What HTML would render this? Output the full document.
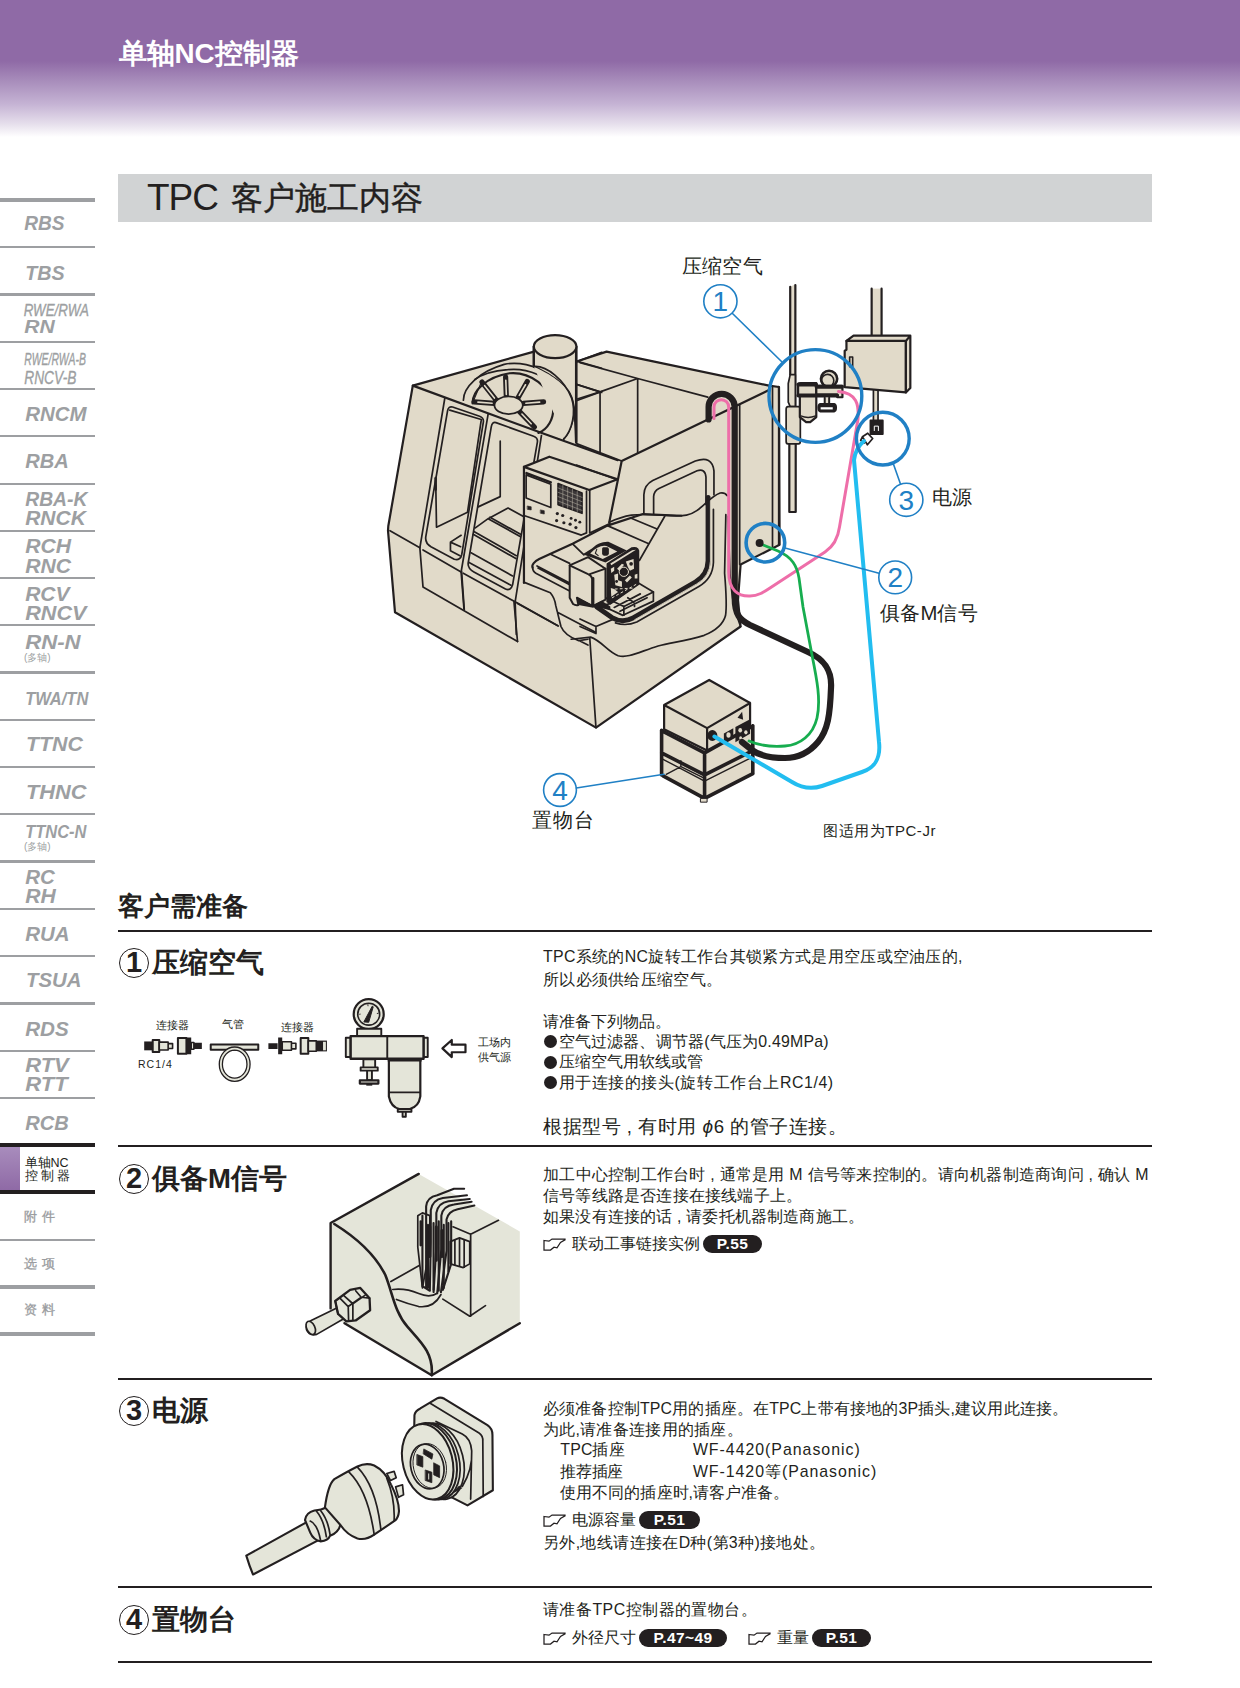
<!DOCTYPE html>
<html lang="zh"><head><meta charset="utf-8"><title>TPC</title>
<style>
html,body{margin:0;padding:0;background:#fff;}
body{width:1240px;height:1688px;position:relative;overflow:hidden;font-family:"Liberation Sans",sans-serif;color:#231f20;}
.abs{position:absolute;white-space:nowrap;}
#hdr{left:0;top:0;width:1240px;height:140px;background:linear-gradient(to bottom,#8f6aa6 0,#8f6aa6 61px,#a88dbb 81px,#c5b3d4 104px,#e6dfec 124px,#fff 137px);}
#hdrt{left:118.5px;top:38px;font-size:27.8px;font-weight:bold;color:#fff;line-height:32px;}
#tbar{left:118px;top:174px;width:1034px;height:48px;background:#d1d3d4;}
#tbart{left:147px;top:176px;font-size:33px;line-height:44px;color:#231f20;}#tbart2{left:231px;top:176px;font-size:32.2px;line-height:44px;color:#231f20;-webkit-text-stroke:0.4px #231f20;}
.sl{position:absolute;left:0;width:95px;background:#9d9fa2;}
.sb{position:absolute;left:24px;color:#9d9fa2;font-style:italic;font-weight:bold;font-size:19px;line-height:19px;white-space:nowrap;transform-origin:0 50%;}
.sb.w{transform:scaleX(1.28);letter-spacing:0.5px;}
.sb.n{font-weight:normal;font-size:17px;transform:scaleX(0.72);-webkit-text-stroke:0.3px #9d9fa2;}
.sc{position:absolute;left:24px;color:#9d9fa2;font-size:10px;line-height:12px;white-space:nowrap;}
.sz{position:absolute;left:24px;color:#999b9e;-webkit-text-stroke:.3px #999b9e;font-size:13px;line-height:16px;white-space:nowrap;letter-spacing:5px;}
.hl{position:absolute;left:118px;width:1034px;height:2px;background:#231f20;}
.h2{position:absolute;left:118px;font-size:25.8px;font-weight:bold;line-height:32px;white-space:nowrap;}
.h3{position:absolute;left:118px;font-size:27.5px;font-weight:bold;line-height:34px;white-space:nowrap;}
.cn{display:inline-block;box-sizing:border-box;width:30px;height:30px;border:1.6px solid #231f20;border-radius:50%;font-size:29px;line-height:26.5px;text-align:center;vertical-align:top;margin:2px 3px 0 1px;font-weight:bold;letter-spacing:0;}
.t{position:absolute;left:543px;font-size:15.9px;line-height:20.6px;white-space:nowrap;}
.bl{display:inline-block;width:13px;height:13px;border-radius:50%;background:#231f20;margin:0 1.5px 0 1px;vertical-align:-1.5px}
.pill{display:inline-block;background:#231f20;color:#fff;font-weight:bold;font-size:15.5px;letter-spacing:.4px;line-height:17.5px;height:17.5px;border-radius:9px;text-align:center;vertical-align:-0.2px;margin-left:3px;}
.lb{position:absolute;font-size:20.3px;letter-spacing:.2px;line-height:24px;white-space:nowrap;}
.sm{position:absolute;font-size:11px;line-height:13px;white-space:nowrap;}
</style></head><body>
<div id="hdr" class="abs"></div>
<div id="hdrt" class="abs">单轴NC控制器</div>
<div id="tbar" class="abs"></div>
<div id="tbart" class="abs"><span style="font-size:37px;letter-spacing:-1px;-webkit-text-stroke:0">TPC</span></div><div id="tbart2" class="abs">客户施工内容</div>
<!--SIDEBAR-->
<div class="sl" style="top:198.2px;height:3.6px"></div>
<div class="sl" style="top:246.2px;height:2px"></div>
<div class="sl" style="top:292.7px;height:3.6px"></div>
<div class="sl" style="top:340.8px;height:2px"></div>
<div class="sl" style="top:388.0px;height:2px"></div>
<div class="sl" style="top:435.2px;height:2px"></div>
<div class="sl" style="top:482.5px;height:2px"></div>
<div class="sl" style="top:529.8px;height:2px"></div>
<div class="sl" style="top:577.0px;height:2px"></div>
<div class="sl" style="top:624.2px;height:2px"></div>
<div class="sl" style="top:670.7px;height:3.6px"></div>
<div class="sl" style="top:718.8px;height:2px"></div>
<div class="sl" style="top:766.0px;height:2px"></div>
<div class="sl" style="top:813.2px;height:2px"></div>
<div class="sl" style="top:859.7px;height:3.6px"></div>
<div class="sl" style="top:907.8px;height:2px"></div>
<div class="sl" style="top:955.0px;height:2px"></div>
<div class="sl" style="top:1001.5px;height:3.6px"></div>
<div class="sl" style="top:1049.5px;height:2px"></div>
<div class="sl" style="top:1096.8px;height:2px"></div>
<div class="sl" style="top:1143.0px;height:4px;background:#231f20"></div>
<div class="sl" style="top:1190.2px;height:4px;background:#231f20"></div>
<div class="sl" style="top:1238.5px;height:2px"></div>
<div class="sl" style="top:1285.0px;height:3.6px"></div>
<div class="sl" style="top:1332.2px;height:3.6px"></div>
<div class="abs" style="left:0;top:1147px;width:20px;height:43px;background:linear-gradient(to bottom,#a88cbc,#8f6aa6)"></div>
<svg class="abs" style="left:0;top:0" width="100" height="1688" viewBox="0 0 100 1688" font-family="Liberation Sans, sans-serif" font-style="italic" fill="#9d9fa2">
<text x="24.3" y="229.5" font-size="19.5" font-weight="bold" textLength="40.3" lengthAdjust="spacingAndGlyphs">RBS</text>
<text x="25.2" y="279.6" font-size="19.5" font-weight="bold" textLength="39.4" lengthAdjust="spacingAndGlyphs">TBS</text>
<text x="23.7" y="315.7" font-size="16.5" font-weight="normal" textLength="65.2" lengthAdjust="spacingAndGlyphs" stroke="#9d9fa2" stroke-width="0.35">RWE/RWA</text>
<text x="24.3" y="332.6" font-size="18" font-weight="bold" textLength="30.5" lengthAdjust="spacingAndGlyphs">RN</text>
<text x="24.3" y="365.2" font-size="17" font-weight="normal" textLength="61.6" lengthAdjust="spacingAndGlyphs" stroke="#9d9fa2" stroke-width="0.35">RWE/RWA-B</text>
<text x="24.3" y="384.4" font-size="18" font-weight="normal" textLength="52.1" lengthAdjust="spacingAndGlyphs" stroke="#9d9fa2" stroke-width="0.35">RNCV-B</text>
<text x="25.2" y="420.6" font-size="19.5" font-weight="bold" textLength="61.3" lengthAdjust="spacingAndGlyphs">RNCM</text>
<text x="25.2" y="468.3" font-size="19.5" font-weight="bold" textLength="43.5" lengthAdjust="spacingAndGlyphs">RBA</text>
<text x="25.2" y="505.9" font-size="19.5" font-weight="bold" textLength="62.2" lengthAdjust="spacingAndGlyphs">RBA-K</text>
<text x="25.2" y="525.2" font-size="19.5" font-weight="bold" textLength="60.7" lengthAdjust="spacingAndGlyphs">RNCK</text>
<text x="25.2" y="553.3" font-size="19.5" font-weight="bold" textLength="45.9" lengthAdjust="spacingAndGlyphs">RCH</text>
<text x="25.2" y="572.6" font-size="19.5" font-weight="bold" textLength="45.9" lengthAdjust="spacingAndGlyphs">RNC</text>
<text x="25.2" y="600.7" font-size="19.5" font-weight="bold" textLength="44.4" lengthAdjust="spacingAndGlyphs">RCV</text>
<text x="25.2" y="620" font-size="19.5" font-weight="bold" textLength="61.3" lengthAdjust="spacingAndGlyphs">RNCV</text>
<text x="25.2" y="648.7" font-size="19.5" font-weight="bold" textLength="55.4" lengthAdjust="spacingAndGlyphs">RN-N</text>
<text x="25.2" y="705" font-size="18" font-weight="bold" textLength="63.1" lengthAdjust="spacingAndGlyphs">TWA/TN</text>
<text x="26" y="751.3" font-size="19.5" font-weight="bold" textLength="57.0" lengthAdjust="spacingAndGlyphs">TTNC</text>
<text x="26" y="798.7" font-size="19.5" font-weight="bold" textLength="60.5" lengthAdjust="spacingAndGlyphs">THNC</text>
<text x="25.2" y="837.8" font-size="17.5" font-weight="bold" textLength="61.3" lengthAdjust="spacingAndGlyphs">TTNC-N</text>
<text x="25.2" y="884.3" font-size="19.5" font-weight="bold" textLength="29.6" lengthAdjust="spacingAndGlyphs">RC</text>
<text x="25.2" y="903" font-size="19.5" font-weight="bold" textLength="30.5" lengthAdjust="spacingAndGlyphs">RH</text>
<text x="25.2" y="940.6" font-size="19.5" font-weight="bold" textLength="44.4" lengthAdjust="spacingAndGlyphs">RUA</text>
<text x="26" y="987.4" font-size="19.5" font-weight="bold" textLength="55.5" lengthAdjust="spacingAndGlyphs">TSUA</text>
<text x="25.2" y="1035.7" font-size="19.5" font-weight="bold" textLength="43.5" lengthAdjust="spacingAndGlyphs">RDS</text>
<text x="25.2" y="1071.9" font-size="19.5" font-weight="bold" textLength="43.5" lengthAdjust="spacingAndGlyphs">RTV</text>
<text x="25.2" y="1091.1" font-size="19.5" font-weight="bold" textLength="42.4" lengthAdjust="spacingAndGlyphs">RTT</text>
<text x="25.2" y="1129.6" font-size="19.5" font-weight="bold" textLength="43.5" lengthAdjust="spacingAndGlyphs">RCB</text>
</svg>
<div class="sc" style="top:651.5px">(多轴)</div>
<div class="sc" style="top:840.5px">(多轴)</div>
<div class="abs" style="left:24.5px;top:1155.5px;font-size:12.5px;line-height:14px;color:#231f20">单轴NC</div>
<div class="abs" style="left:24.5px;top:1168.5px;font-size:12.5px;line-height:14px;color:#231f20;letter-spacing:3px">控制器</div>
<div class="sz" style="top:1208.5px">附件</div>
<div class="sz" style="top:1256px">选项</div>
<div class="sz" style="top:1302px">资料</div>
<!--/SIDEBAR-->
<!--ILLUS-->
<svg class="abs" style="left:0;top:0" width="1240" height="1688" viewBox="0 0 1240 1688" fill="none" stroke="#231f20" stroke-width="1.7" stroke-linejoin="round" stroke-linecap="round">
<style>.ns *{vector-effect:non-scaling-stroke}.bg{fill:#e1dac9}.k{fill:#231f20}.th{stroke-width:2.2}.fn{stroke-width:1.1}</style>
<!-- ===== right back panel + silhouette ===== -->
<path class="bg th" d="M412.8,385.6 L534,351.6 L576.6,361.5 L606.6,351.6 L769,385.6 L779,387 L779.6,544.8 L740.6,564.4 L738,600 L740.6,626.5 L596,727.6 L395,612.3 L388,530.6 L388.3,526 Z"/>

<!-- G1: top-left (380,320) s=5.636 -->
<g class="ns" transform="translate(380,320) scale(0.17742)">
<path class="th" d="M185,370 L920,640 L1340,790"/>
<!-- fan housing -->
<path class="bg" d="M470,452 C470,380 560,290 700,250 C820,225 980,290 1060,400 C1110,480 1100,590 1035,672"/>
<path d="M535,335 C590,295 660,285 720,280 C830,268 960,320 1020,410"/>
<path stroke-width="2.2" d="M522,470 C520,400 600,320 730,300 C850,290 960,380 975,480 C985,560 940,620 893,636"/>
<g stroke-width="5.2"><path d="M655,452 L575,350 M712,432 L708,320 M778,438 L830,347 M808,470 L922,462 M788,518 L870,603 M645,470 L530,462"/></g>
<g stroke="#e1dac9" stroke-width="1.6"><path d="M645,440 L590,370 M712,420 L709,340 M785,425 L820,365 M822,469 L900,463 M800,530 L852,585 M632,469 L552,463"/></g>
<path d="M572,348 L524,462" class="fn"/>
<ellipse cx="725" cy="480" rx="80" ry="50" class="bg" stroke-width="1.8"/>
<!-- cylinder -->
<path class="bg th" d="M867,150 V262 C900,280 1000,320 1060,400 C1090,440 1100,500 1105,690 V150 Z"/>
<path class="bg" d="M867,262 C900,280 1000,320 1060,400 C1105,480 1100,590 1040,668" stroke="none"/>
<path class="th" d="M867,150 V262 M1107,150 V690"/>
<path d="M867,262 C940,255 1040,340 1080,440 C1105,520 1085,620 1035,672"/>
<ellipse class="bg th" cx="987" cy="150" rx="120" ry="65"/>
<path d="M1107,235 L1250,182 M1107,232 L1250,272 M1107,362 L1250,408 M1107,455 L1250,403"/>
</g>
<!-- G9: doors (390,380) s=7.031 -->
<g class="ns" transform="translate(390,380) scale(0.14222)">
<path d="M385,130 L210,1180 L232,1455 L897,1839"/>
<path d="M440,190 L630,255 Q662,266 656,298 L505,1225 Q496,1272 452,1260 L288,1172 Q244,1146 252,1100 L405,215 Q412,182 440,190 Z"/>
<path d="M420,212 L642,278 L545,930 L327,1035 L322,740"/>
<path stroke-width="2.6" d="M321,690 V770"/>
<path d="M500,1092 L425,1140 V1200 L492,1236 M425,1140 L497,1172"/>
<path d="M690,240 L500,1350 L520,1610"/>
<path d="M745,300 L1010,395 Q1042,406 1036,438 L862,1440 Q850,1484 812,1470 L590,1350 Q544,1324 550,1285 L712,330 Q718,292 745,300 Z"/>
<path d="M775,430 V820 L620,892"/>
<path d="M1065,390 L880,1560 L888,1790"/>
<path d="M600,1040 L690,975 L830,900 L942,962 M690,975 L915,1100 M703,965 L918,1085 M590,1065 L888,1235 M585,1085 L885,1255 M570,1215 L862,1378 M556,1283 L850,1443"/>
<path d="M0,1060 L210,1180 M232,1195 L500,1350 M515,1358 L880,1560 L1177,1727"/>
</g>
<!-- G3: bottom-left (380,520) -->
<g class="ns" transform="translate(380,520) scale(0.17742)">
<path d="M460,290 L475,505 M755,460 L775,685"/>
</g>

<!-- G8: control panel, table, rotary (500,440) s=6.889 -->
<g class="ns" transform="translate(500,440) scale(0.14516)">
<path class="bg" d="M165,185 L340,115 L810,270 L757,575 L618,640 L560,655 L230,830 L165,985 Z" stroke="none"/>
<path class="th" d="M165,185 L340,115 L810,270 L615,345 Z"/>
<path class="th" d="M165,185 V985"/>
<path d="M596,352 V640 M618,345 V640 L757,575 M165,520 L560,655 L596,640"/>
<path stroke-width="2.4" d="M182,228 L350,292"/>
<path d="M180,240 L350,305 V465 L180,400 Z"/>
<path d="M400,300 L565,365 V505 L400,445 Z" fill="#3b3738"/>
<g stroke="#e1dac9" stroke-width="0.5" opacity=".8"><path d="M400,330 L565,395 M400,360 L565,425 M400,390 L565,455 M400,420 L565,485 M433,313 V458 M466,326 V470 M499,339 V482 M532,352 V494"/></g>
<path d="M190,455 L215,460 V482 L190,478 Z M280,482 L305,487 V510 L280,505 Z" fill="#231f20" stroke-width=".6"/>
<g class="k" stroke="none"><circle cx="395" cy="507" r="11"/><circle cx="432" cy="520" r="11"/><circle cx="390" cy="555" r="11"/><circle cx="440" cy="570" r="11"/><circle cx="483" cy="580" r="11"/><circle cx="523" cy="603" r="11"/><circle cx="490" cy="540" r="10"/><circle cx="520" cy="553" r="10"/><circle cx="550" cy="566" r="10"/></g>
<!-- table -->
<path class="bg" d="M225,880 C215,860 240,835 270,820 L345,785 L500,715 L740,590 L985,510 L1135,525 L960,830 L1055,1050 V1100 L850,1200 L480,1040 L250,920 Q225,905 225,880 Z" stroke="none"/>
<path class="th" d="M225,880 C215,860 240,835 270,820 L345,785 L500,715 L740,590 L985,510 L1250,522"/>
<path d="M225,880 Q225,905 250,920 L480,1040 M255,868 L480,985 M262,882 L480,998"/>
<path d="M345,785 L480,850 M500,715 L578,792 M740,590 L1025,715 M900,537 L1078,612 M1135,525 L960,830"/>
</g>
<!-- G3 extras: pedestal & curved apron (380,520) -->
<g class="ns" transform="translate(380,520) scale(0.17742)">
<path d="M810,350 L960,410 Q985,440 990,480 L1020,600 Q1040,650 1120,680 L1172,672 M1000,520 L1215,632 M1130,684 L1172,705"/>
<path d="M775,470 L1005,598"/>
</g>
<!-- G4: lower right (580,520) -->
<g class="ns" transform="translate(580,520) scale(0.17742)">
<path d="M822,-30 L815,300 Q830,480 820,540 Q800,610 700,650 C600,680 520,690 440,710 C330,745 270,780 215,765 C160,745 120,680 60,660 L-50,672"/>
<path d="M835,-20 L845,300 Q855,420 870,500 L905,600"/>
<path d="M55,665 L90,1170"/>
<path d="M0,558 L90,600 L185,560 M90,600 V640 L0,600" />
<!-- cable inside going to rotary -->
<path stroke-width="5" d="M722,-127 V230 Q720,310 650,350 L300,552 Q240,585 180,550 L95,490"/>
<path stroke="#e1dac9" stroke-width="0.8" d="M735,-120 V232 Q732,318 658,360 L308,562"/>
<path d="M752,-60 V240 Q748,330 670,375 L320,575 Q260,600 200,580"/>
</g>
<!-- G10: rotary table detail (560,530) s=10.333 -->
<g class="ns" transform="translate(560,530) scale(0.096774)" stroke-width="1.7">
<!-- base plate -->
<path class="bg" d="M520,760 L810,548 L965,640 V735 L650,882 L430,780 Z"/>
<path d="M965,640 L660,790 L470,700 M660,790 V880 M560,800 L830,660 M620,840 L900,700 M700,700 L770,755 V790"/>
<!-- motor cover -->
<path class="bg" stroke-width="2" d="M100,365 L290,280 L470,400 V720 L340,790 L175,700 L190,775 Q160,782 135,765 L100,700 Z"/>
<path d="M100,365 L290,455 Q328,470 332,505 V775 M300,458 L470,400" stroke-width="1.9"/>
<path stroke-width="2.6" d="M342,500 V780"/>
<path class="k" stroke="none" d="M175,695 L340,775 L430,730 L520,790 L520,830 L400,800 L330,800 L190,775 Z"/>
<!-- eye -->
<path class="k" stroke="none" d="M235,250 L330,190 Q400,118 500,122 L690,212 L470,335 Z"/>
<path class="bg" stroke="none" d="M312,242 Q400,150 480,165 L592,222 L442,300 Z"/>
<path class="k" stroke="none" d="M448,178 H490 Q505,180 505,200 V245 Q500,265 480,265 H455 Q435,262 435,240 V195 Q436,180 448,178 Z"/>
<path d="M380,200 l-15,40 l30,25" class="fn"/>
<!-- faceplate -->
<path class="k" d="M490,352 L740,188 Q800,172 810,215 V560 L520,762 L488,740 Z"/>
<g class="bg" stroke="none">
<path d="M520,345 L745,210 L785,205 L530,365 Z"/>
<path d="M525,400 L560,380 V420 L530,445 Z"/>
<path d="M590,400 L640,348 L662,360 L612,420 Z"/>
<path d="M680,325 L760,300 L765,400 L722,422 L700,380 Z"/>
<path d="M560,462 L600,450 V520 L640,532 V590 L572,572 Z"/>
<path d="M670,520 L722,470 L742,492 L692,542 Z"/>
<path d="M772,462 L800,452 V500 L772,502 Z"/>
<path d="M525,600 L560,610 L600,640 L530,690 Z"/>
</g>
<circle class="k" cx="735" cy="350" r="19" stroke="none"/><circle class="k" cx="585" cy="532" r="15" stroke="none"/>
<circle cx="660" cy="432" r="48" stroke="#e1dac9" stroke-width="1"/>
<g stroke="#e1dac9" stroke-width="1" stroke-dasharray="2 3"><path d="M570,610 L760,600 M540,700 L790,560"/></g>
</g>
<!-- G2: back box / front-right panel (580,320) -->
<g class="ns" transform="translate(580,320) scale(0.17742)">
<path d="M0,240 L325,330 L720,435 M113,405 L325,330 M-20,363 L113,405 M-20,447 L113,405 M113,405 V750 M325,330 V750 M-20,697 L235,795 M-20,818 L210,900"/>
<path class="th" d="M1065,395 L235,795 L165,1140"/>
<path d="M900,480 V1378 M1085,380 V1283 M1120,375 V1268 M1065,370 V395"/>
<path d="M360,1095 L360,985 Q362,930 410,905 L650,795 Q745,760 755,850 L755,985"/>
<path d="M415,1095 L415,995 Q417,965 445,950 L660,850 Q705,835 710,885 L710,1040"/>
<path d="M165,1140 Q230,1110 290,1100 C400,1085 520,1115 600,1100 C680,1085 720,1000 790,975 Q815,970 830,990"/>
</g>

<!-- ===== pipes / box / filter : G5 (740,270) s=5.636 ===== -->
<g class="ns" transform="translate(740,270) scale(0.17742)">
<path class="bg" d="M283,95 L312,80 V590 H283 Z M278,980 H314 V1364 H278 Z" stroke="none"/>
<path class="th" d="M283,95 V590 M312,85 V770 M278,980 V1364 M314,980 V1364 M278,1364 H314"/>
<path class="bg" d="M283,590 L272,640 V745 L283,770 H312 V590 Z"/>
<path class="bg" d="M270,770 H330 Q340,770 340,785 V965 Q340,980 330,980 H270 Q260,980 260,965 V785 Q260,770 270,770 Z"/>
<path class="bg" d="M742,105 H798 V385 H742 Z" stroke="none"/><path class="th" d="M742,105 V385 M798,105 V385"/>
<path class="bg" d="M752,680 H778 V850 H752 Z" stroke="none"/><path d="M752,680 V850 M778,680 V850"/>
<path class="bg th" d="M600,400 H935 V690 L590,660 V455 L600,450 Z"/>
<path class="bg th" d="M600,400 L640,370 H960 L935,400 Z M935,400 L960,370 V665 L935,690 Z"/>
<path class="bg" d="M618,490 H635 V545 H618 Z" stroke-width="1.6"/>
<path class="k" d="M735,848 H805 V925 H735 Z"/>
<path stroke="#fff" stroke-width="1" d="M757,905 V880 H780 V905"/>
<path fill="#fff" d="M690,940 L720,920 L748,950 L718,985 Z M690,940 L680,960 L700,975"/>
</g>
<!-- G11: filter regulator detail (780,360) s=10.333 -->
<g class="ns" transform="translate(780,360) scale(0.096774)" stroke-width="2.2">
<circle class="bg" cx="507" cy="195" r="84" stroke-width="2.6"/><path d="M440,250 A64,64 0 1 1 540,255" stroke-width="1.6"/>
<path class="bg" d="M205,365 V590 L270,642 H312 L375,590 V365 Z"/><path d="M215,578 Q290,610 368,578" stroke-width="1.4"/>
<path class="bg" d="M187,262 Q187,238 215,238 H375 V368 H187 Z"/>
<path class="bg" d="M375,268 H645 V385 H592 V358 H375 Z"/>
<path stroke-width="4" d="M190,252 H372 M378,276 H640 M190,366 H590"/>
<path class="bg" d="M462,390 V455 H508 V390" stroke-width="2"/>
<path class="k" d="M415,455 H560 Q578,458 578,492 Q578,528 560,530 H415 Q398,528 398,492 Q398,458 415,455 Z"/>
<path fill="#fff" stroke="none" d="M420,488 H545 V511 H420 Z"/>
</g>
<!-- ===== TPC controller + stand : G7 (640,660) s=4.769 ===== -->
<g class="ns" transform="translate(640,660) scale(0.20968)">
<path class="bg" d="M100,330 L115,330 V215 L330,95 L525,205 V310 L540,310 V540 L305,665 L100,550 Z" stroke="none"/>
<path stroke-width="3.6" stroke-linejoin="miter" d="M103,335 V548 M308,442 V662 M538,314 V540 M103,337 L308,443 L538,314 M103,443 L308,548 L538,432 M110,553 L308,660 L538,542"/>
<path stroke-width="1.4" d="M103,470 L308,578 L538,462 M125,545 L195,508 L308,565 M195,508 V480"/>
<path class="bg th" d="M115,215 L330,95 L525,205 L320,325 Z M115,215 L320,325 V432 L115,330 Z M320,325 L525,205 V318 L320,432 Z"/>
<path class="k" d="M465,275 l22,-28 l5,38 z M400,350 l45,-25 v40 l-45,25 z M455,320 l70,-38 v70 l-70,40 z" stroke="none"/>
<g fill="#e1dac9" stroke="none"><ellipse cx="422" cy="358" rx="10" ry="13"/><ellipse cx="478" cy="335" rx="9" ry="11"/><ellipse cx="505" cy="345" rx="8" ry="10"/><ellipse cx="480" cy="372" rx="7" ry="8"/></g>
<ellipse class="k" cx="345" cy="360" rx="20" ry="22"/>
<path class="bg" d="M290,660 h30 v18 h-30 z" stroke-width="1"/>
</g>
<!-- ===== cables ===== -->
<path stroke-width="6.2" d="M708.6,419.4 V407 A13.05,13.05 0 0 1 734.7,407 V598 C734.7,615 740,620 750,625 L808,652 C826,660 832,672 831,688 C830,715 828,730 818,742 C808,754 795,758 785,758 C772,758 760,756 752,750 L742,742"/>
<path stroke="#ee6ea9" stroke-width="3" d="M714,418.5 V407 A7.35,7.35 0 0 1 728.7,407 V572 C728.7,590 738,596.5 750,596 C758,596 764,592 770,588 L825,552 C834,546 838,538 839.5,527 L858,419 C859,405 857,393 838.5,391.5"/>
<path stroke="#17ad4f" stroke-width="2.8" d="M762,544.5 L778,551 C792,557 797,566 799,578 L803,607 L812,655 C817,680 821,700 817,718 C813,735 800,745 785,746 C772,747 758,745 749,741"/>
<path stroke="#22bdf0" stroke-width="4" d="M864,441 C858,446 855,452 854,460 L879,742 C881,760 874,768 862,772 L822,786 C810,790 800,787 792,782 L714.4,736.5"/>
<circle class="k" cx="759.6" cy="543" r="4" stroke="none"/>
<!-- ===== blue callouts ===== -->
<g stroke="#2080c5">
<circle cx="815.4" cy="396" r="46.4" stroke-width="3.4"/>
<circle cx="882.8" cy="438.6" r="26.4" stroke-width="3.4"/>
<circle cx="765.4" cy="542.7" r="19.3" stroke-width="3.6"/>
<g stroke-width="1.6"><circle cx="720.4" cy="301.3" r="16.6"/><circle cx="895.2" cy="577.4" r="16.4"/><circle cx="906.3" cy="499.8" r="16.6"/><circle cx="560" cy="790" r="16.4"/>
<path d="M732.5,313.5 L781.5,361.5 M893.5,464.3 L900.4,483.8 M785,548 L879,573.2 M576.3,788 L664,774.3"/></g>
</g>
<g fill="#2080c5" stroke="none" font-family="Liberation Sans, sans-serif" font-size="28" text-anchor="middle"><text x="720.4" y="311.3">1</text><text x="895.2" y="587.4">2</text><text x="906.3" y="509.8">3</text><text x="560" y="800">4</text></g>
</svg>

<svg class="abs" style="left:0;top:0" width="1240" height="1688" viewBox="0 0 1240 1688" fill="none" stroke="#231f20" stroke-width="1.6" stroke-linejoin="round">
<style>.lg{fill:#e4e5d9}.kk{fill:#231f20}</style>
<!-- S1 connectors: (130,990) s=5.636 -->
<g class="ns" transform="translate(130,990) scale(0.17742)">
<path class="kk" d="M80,290 H125 V340 H80 Z" stroke="none"/>
<path class="lg" stroke-width="2" d="M128,282 H165 V350 H128 Z"/><path class="lg" d="M165,294 H215 V338 H165 Z M215,302 H240 V330 H215 Z"/>
<path class="lg" stroke-width="2" d="M270,270 H318 V360 H270 Z"/><path class="kk" d="M318,268 H345 V362 H318 Z M358,298 H405 V332 H358 Z" stroke="none"/><path class="lg" d="M345,296 H360 V334 H345 Z"/>
<path class="lg" stroke-width="2" d="M455,307 H723 V337 H455 Z"/>
<ellipse cx="590" cy="418" rx="78" ry="88" stroke-width="4.4"/><ellipse cx="590" cy="418" rx="78" ry="88" stroke="#e4e5d9" stroke-width="1.8"/>
<path class="kk" d="M780,300 H832 V332 H780 Z M835,268 H858 V362 H835 Z" stroke="none"/><path class="lg" d="M858,292 H910 V340 H858 Z M910,300 H935 V332 H910 Z"/>
<path class="lg" stroke-width="2" d="M962,270 H1005 V360 H962 Z"/><path class="lg" d="M1005,287 H1050 V345 H1005 Z"/><path class="kk" d="M1050,285 H1110 V346 H1050 Z" stroke="none"/><path class="lg" d="M1088,292 H1104 V340 H1088 Z" stroke="none"/>
</g>
<!-- S1 regulator: (330,990) s=6.2 -->
<g class="ns" transform="translate(330,990) scale(0.16129)" stroke-width="1.9">
<circle class="lg" cx="240" cy="150" r="93" stroke-width="2.2"/><circle cx="240" cy="150" r="68" stroke-width="1.6"/>
<path class="kk" d="M210,198 L262,100 L268,104 L240,200 Z" stroke-width="1"/>
<path class="kk" d="M175,150 l14,-4 v8z M300,140 l-12,6 l12,4z M230,90 l6,14 l4,-14z" stroke="none"/>
<path class="lg" d="M168,240 H318 V287 H168 Z"/>
<path class="lg" d="M98,296 H128 V415 H98 Z M580,296 H606 V415 H580 Z"/>
<path class="lg" stroke-width="2.4" d="M128,286 H580 V426 H128 Z"/><path d="M355,286 V426"/>
<path class="lg" d="M207,430 H280 V480 H207 Z M190,480 H296 V500 H190 Z M230,500 H260 V560 H230 Z"/>
<path class="lg" stroke-width="2.2" d="M185,560 H300 V580 H185 Z"/><path class="kk" d="M225,580 H262 V593 H225 Z" stroke="none"/>
<path class="lg" stroke-width="2.2" d="M365,432 H560 V660 Q550,725 495,738 H430 Q378,725 365,660 Z"/>
<path stroke-width="3.6" d="M358,432 H568"/><path d="M365,635 H560"/>
<path class="lg" d="M420,738 H505 V755 H420 Z M450,755 H470 V786 H450 Z"/>
<path fill="#fff" stroke-width="2.2" d="M697,362 L755,310 V339 H840 V386 H755 V416 Z"/>
</g>
</svg>

<svg class="abs" style="left:0;top:0" width="1240" height="1688" viewBox="0 0 1240 1688" fill="none" stroke="#231f20" stroke-width="1.7" stroke-linejoin="round" stroke-linecap="round">
<!-- S2 junction box: (300,1160) s=5.391 -->
<g class="ns" transform="translate(300,1160) scale(0.18549)">
<path class="lg" d="M165,340 L640,75 L1185,385 V880 L710,1160 L240,880 L165,845 Z" stroke="none"/>
<path stroke-width="2.4" d="M640,75 L165,340 V800 M240,880 L710,1160 L1185,880"/>
<path stroke-width="2.6" d="M185,345 C290,410 400,500 460,620 C500,720 510,820 580,900 C650,980 720,1040 710,1160"/>
<path d="M490,655 L650,565 M770,750 L915,842 L1000,785 M920,398 V842 M825,360 L920,400 L1070,325"/>
<path class="lg" d="M810,440 L860,420 L915,440 V560 L880,580 L810,560 Z"/><path d="M835,432 V565 M860,425 V572 M885,432 V578"/>
<path class="lg" d="M635,300 L660,285 L700,300 V470 L660,690 L635,470 Z"/>
<g stroke-width="2.1"><path d="M680,690 V250 Q685,200 740,190 L830,155 H885 M700,700 L705,440 V270 Q715,215 770,205 L900,190 M720,712 L735,470 V285 Q745,230 800,222 L915,210 M740,718 L762,480 V300 Q770,248 830,240 L925,225 M760,712 L790,490 V320 Q800,275 850,265 L940,245 M770,700 L815,560 V330"/>
<path d="M660,300 V680 L700,705 M650,330 V460 M690,350 V690 M720,340 V700 M748,330 V705 M775,350 V690 M800,340 V600"/></g>
<path stroke-width="3" d="M700,360 V520 M735,360 V540 M765,380 V520"/>
<path d="M740,718 Q700,745 640,720 Q570,690 500,698 M760,725 Q720,800 640,790 Q580,775 520,752"/>
<!-- gland + cable -->
<path class="lg" d="M60,865 L215,790 L245,850 L90,940 Q50,950 35,915 Q30,880 60,865 Z"/>
<ellipse class="lg" cx="58" cy="905" rx="22" ry="38" transform="rotate(-25 58 905)"/>
<path class="lg" stroke-width="2.3" d="M190,760 L270,700 L325,690 L375,745 L378,810 L300,865 L250,870 L205,830 Z"/>
<path d="M215,745 L260,790 L262,865 M260,790 L330,740 L375,745 M235,730 L285,775 V860 M285,775 L350,730 M300,705 L330,740 M205,830 L190,760"/>
</g>
</svg>

<svg class="abs" style="left:0;top:0" width="1240" height="1688" viewBox="0 0 1240 1688" fill="none" stroke="#231f20" stroke-width="1.7" stroke-linejoin="round" stroke-linecap="round">
<!-- S3 plug & socket: (240,1390) s=4.769 -->
<g class="ns" transform="translate(240,1390) scale(0.20968)">
<!-- socket housing -->
<path class="lg" stroke-width="2.1" d="M832,120 Q835,100 860,88 L940,40 Q955,32 975,42 L1180,168 Q1205,185 1204,215 L1206,478 L1085,550 L1010,512 L830,230 Z"/>
<path d="M905,62 L1140,205 Q1160,218 1158,245 L1160,508 M1100,520 L1105,290 Q1100,230 1060,210 L935,150 M1105,290 Q1110,380 1060,460"/>
<!-- socket rings -->
<ellipse class="lg" cx="945" cy="340" rx="120" ry="185" transform="rotate(-14 945 340)"/>
<ellipse class="lg" cx="925" cy="340" rx="120" ry="185" transform="rotate(-14 925 340)"/>
<ellipse class="lg" cx="910" cy="340" rx="120" ry="185" transform="rotate(-14 910 340)" stroke-width="2"/>
<ellipse class="lg" cx="895" cy="342" rx="118" ry="183" transform="rotate(-14 895 342)" stroke-width="2"/>
<ellipse cx="893" cy="365" rx="78" ry="108" transform="rotate(-14 893 365)"/>
<ellipse cx="905" cy="362" rx="78" ry="108" transform="rotate(-14 905 362)" stroke-width="1"/>
<path class="kk" d="M845,308 L872,318 V368 L845,358 Z M878,282 L920,305 L915,330 L875,305 Z M925,348 L952,362 V418 L925,405 Z M885,382 L915,392 V442 L885,432 Z" stroke-width=".8"/>
<path stroke="#e4e5d9" stroke-width="1" d="M900,400 V425"/>
<path class="kk" d="M1005,500 L1060,468 L1045,455 Z" stroke="none"/>
<!-- plug -->
<path class="lg" stroke-width="2.1" d="M30,790 L340,618 L395,705 L62,880 Q45,840 30,790 Z"/>
<path class="lg" stroke-width="2.1" d="M310,620 Q315,585 355,575 Q390,572 410,560 L480,640 Q470,680 430,695 Q420,720 385,722 Q350,715 335,680 Z"/>
<path d="M365,578 Q400,620 412,700 M385,576 Q420,620 430,692 M335,625 Q370,640 385,720"/>
<path class="lg" d="M700,398 L735,388 L745,418 L718,432 Z M742,462 L775,452 L780,500 L756,512 Z"/>
<path class="lg" stroke-width="2.1" d="M405,560 Q420,450 450,425 Q520,385 560,365 Q600,345 640,360 Q690,385 720,450 Q760,530 758,580 Q755,610 740,622 L640,690 Q600,718 560,708 Q510,690 480,645 Z"/>
<path d="M520,392 Q610,480 640,690 M560,368 Q650,460 672,668 M700,420 Q740,520 735,622"/>
</g>
</svg>

<!--/ILLUS-->
<!--TEXT-->
<div class="hl" style="top:929.5px"></div>
<div class="hl" style="top:1145.0px"></div>
<div class="hl" style="top:1377.5px"></div>
<div class="hl" style="top:1585.5px"></div>
<div class="hl" style="top:1660.5px"></div>
<div class="h2" style="top:889.5px">客户需准备</div>
<div class="h3" style="top:945.5px"><span class="cn">1</span>压缩空气</div>
<div class="h3" style="top:1162.0px"><span class="cn">2</span>俱备M信号</div>
<div class="h3" style="top:1394.0px"><span class="cn">3</span>电源</div>
<div class="h3" style="top:1602.5px"><span class="cn">4</span>置物台</div>
<div class="t" id="a1" style="left:543px;top:946.7px;letter-spacing:0.31px;">TPC系统的NC旋转工作台其锁紧方式是用空压或空油压的,</div>
<div class="t" id="a2" style="left:543px;top:970.2px;letter-spacing:0.3px;">所以必须供给压缩空气。</div>
<div class="t" id="a3" style="left:543px;top:1011.7px;letter-spacing:-0.03px;">请准备下列物品。</div>
<div class="t" id="a4" style="left:543px;top:1031.7px;letter-spacing:0.19px;"><span class="bl"></span>空气过滤器、调节器(气压为0.49MPa)</div>
<div class="t" id="a5" style="left:543px;top:1052.3px;letter-spacing:0.08px;"><span class="bl"></span>压缩空气用软线或管</div>
<div class="t" id="a6" style="left:543px;top:1072.7px;letter-spacing:0.58px;"><span class="bl"></span>用于连接的接头(旋转工作台上RC1/4)</div>
<div class="t" id="a7" style="left:543px;top:1117.4px;font-size:18.6px;letter-spacing:0.54px;">根据型号 , 有时用 <i style="font-size:19px">&#981;</i>6 的管子连接。</div>
<div class="t" id="b1" style="left:543px;top:1164.5px;letter-spacing:0.26px;">加工中心控制工作台时 , 通常是用 M 信号等来控制的。请向机器制造商询问 , 确认 M</div>
<div class="t" id="b2" style="left:543px;top:1186.2px;letter-spacing:0.2px;">信号等线路是否连接在接线端子上。</div>
<div class="t" id="b3" style="left:543px;top:1206.7px;letter-spacing:0.18px;">如果没有连接的话 , 请委托机器制造商施工。</div>
<div class="t" id="b4" style="left:543px;top:1234.2px;"><svg width="23" height="13" viewBox="-1 -0.5 23 13" style="vertical-align:-1.5px;margin-right:6px"><path d="M0,2 L5,2.7 L8,0.6 H21 V1.3 L16.5,4 L13,9.3 L10,8.7 L6.5,11.6 H0 Z" fill="#fff" stroke="#231f20" stroke-width="1.25" stroke-linejoin="miter"/></svg>联动工事链接实例<span class="pill" style="width:59px">P.55</span></div>
<div class="t" id="c1" style="left:543px;top:1399.1px;letter-spacing:0.16px;">必须准备控制TPC用的插座。在TPC上带有接地的3P插头,建议用此连接。</div>
<div class="t" id="c2" style="left:543px;top:1420.3px;letter-spacing:0.27px;">为此,请准备连接用的插座。</div>
<div class="t" id="c3" style="left:560.3px;top:1440.4px;letter-spacing:0.14px;">TPC插座</div>
<div class="t" id="c3b" style="left:692.9px;top:1440.4px;letter-spacing:0.98px;">WF-4420(Panasonic)</div>
<div class="t" id="c4" style="left:560.3px;top:1462.1px;letter-spacing:-0.27px;">推荐插座</div>
<div class="t" id="c4b" style="left:692.9px;top:1462.1px;letter-spacing:0.96px;">WF-1420等(Panasonic)</div>
<div class="t" id="c5" style="left:560.3px;top:1482.7px;letter-spacing:0.04px;">使用不同的插座时,请客户准备。</div>
<div class="t" id="c6" style="left:543px;top:1510.0px;"><svg width="23" height="13" viewBox="-1 -0.5 23 13" style="vertical-align:-1.5px;margin-right:6px"><path d="M0,2 L5,2.7 L8,0.6 H21 V1.3 L16.5,4 L13,9.3 L10,8.7 L6.5,11.6 H0 Z" fill="#fff" stroke="#231f20" stroke-width="1.25" stroke-linejoin="miter"/></svg>电源容量<span class="pill" style="width:61px">P.51</span></div>
<div class="t" id="c7" style="left:543px;top:1533.3px;letter-spacing:0.36px;">另外,地线请连接在D种(第3种)接地处。</div>
<div class="t" id="d1" style="left:543px;top:1600.0px;letter-spacing:0.47px;">请准备TPC控制器的置物台。</div>
<div class="t" id="d2" style="left:543px;top:1628.3px;"><svg width="23" height="13" viewBox="-1 -0.5 23 13" style="vertical-align:-1.5px;margin-right:6px"><path d="M0,2 L5,2.7 L8,0.6 H21 V1.3 L16.5,4 L13,9.3 L10,8.7 L6.5,11.6 H0 Z" fill="#fff" stroke="#231f20" stroke-width="1.25" stroke-linejoin="miter"/></svg>外径尺寸<span class="pill" style="width:88px">P.47~49</span><span style="display:inline-block;width:21px"></span><svg width="23" height="13" viewBox="-1 -0.5 23 13" style="vertical-align:-1.5px;margin-right:6px"><path d="M0,2 L5,2.7 L8,0.6 H21 V1.3 L16.5,4 L13,9.3 L10,8.7 L6.5,11.6 H0 Z" fill="#fff" stroke="#231f20" stroke-width="1.25" stroke-linejoin="miter"/></svg>重量<span class="pill" style="width:59px">P.51</span></div>
<div class="lb" style="left:682px;top:254px">压缩空气</div>
<div class="lb" style="left:932px;top:485px">电源</div>
<div class="lb" style="left:880px;top:601px">俱备M信号</div>
<div class="lb" style="left:532px;top:808px;letter-spacing:1px">置物台</div>
<div class="abs" style="left:823px;top:822px;font-size:15px;line-height:18px;letter-spacing:.55px">图适用为TPC-Jr</div>
<div class="sm" style="left:156px;top:1019px">连接器</div>
<div class="sm" style="left:222px;top:1018px">气管</div>
<div class="sm" style="left:281px;top:1021px">连接器</div>
<div class="sm" style="left:138px;top:1058px;font-size:10.5px;letter-spacing:1px">RC1/4</div>
<div class="sm" style="left:478px;top:1035px;line-height:14.5px">工场内<br>供气源</div>
<!--/TEXT-->
</body></html>
